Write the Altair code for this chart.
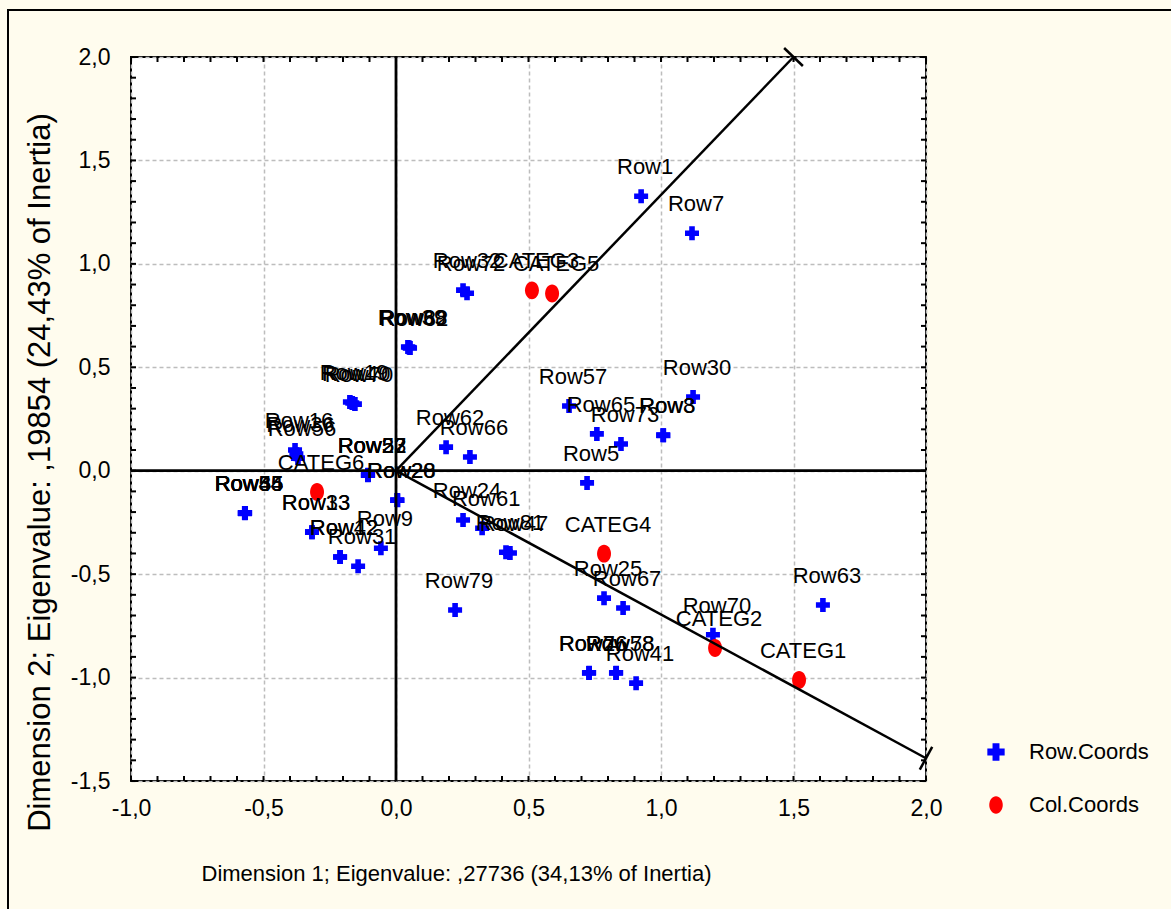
import altair as alt
import numpy as np
import pandas as pd

FONT = "Liberation Sans, Arial, Helvetica, sans-serif"

# Row coordinates (Row.Coords)
row_labels = [
    "Row1", "Row7", "Row32", "Row72",
    "Row39", "Row68", "Row82",
    "Row19", "Row40", "Row70",
    "Row16", "Row36", "Row56",
    "Row22", "Row27", "Row52", "Row53",
    "Row20", "Row28",
    "Row9", "Row31", "Row42", "Row12", "Row13", "Row33",
    "Row44", "Row55", "Row35", "Row45", "Row54",
    "Row62", "Row66", "Row57", "Row65", "Row73", "Row8", "Row3", "Row30",
    "Row5", "Row24", "Row61", "Row81", "Row47", "Row79", "Row25", "Row67",
    "Row76", "Row26", "Row58", "Row78", "Row41", "Row70b", "Row63",
]
row_x = [
    0.925, 1.117, 0.253, 0.268,
    0.045, 0.050, 0.053,
    -0.174, -0.165, -0.155,
    -0.381, -0.376, -0.370,
    -0.106, -0.106, -0.105, -0.106,
    0.004, 0.006,
    -0.057, -0.143, -0.211, -0.211, -0.317, -0.317,
    -0.570, -0.570, -0.569, -0.570, -0.571,
    0.189, 0.279, 0.653, 0.758, 0.849, 1.008, 1.009, 1.121,
    0.721, 0.253, 0.325, 0.415, 0.430, 0.223, 0.785, 0.857,
    0.728, 0.729, 0.830, 0.831, 0.906, 1.196, 1.611,
]
row_y = [
    1.327, 1.148, 0.873, 0.858,
    0.598, 0.596, 0.593,
    0.332, 0.327, 0.322,
    0.100, 0.080, 0.061,
    -0.021, -0.021, -0.020, -0.022,
    -0.142, -0.143,
    -0.375, -0.462, -0.417, -0.417, -0.297, -0.297,
    -0.205, -0.205, -0.204, -0.206, -0.205,
    0.114, 0.066, 0.313, 0.178, 0.129, 0.172, 0.171, 0.356,
    -0.059, -0.238, -0.278, -0.394, -0.398, -0.673, -0.616, -0.664,
    -0.978, -0.977, -0.978, -0.977, -1.027, -0.793, -0.649,
]
row_text = [lbl.rstrip("b") for lbl in row_labels]

# Column coordinates (Col.Coords)
col_labels = ["CATEG1", "CATEG2", "CATEG3", "CATEG4", "CATEG5", "CATEG6"]
col_x = [1.521, 1.204, 0.513, 0.785, 0.589, -0.298]
col_y = [-1.012, -0.857, 0.872, -0.401, 0.857, -0.103]

# Directions drawn from the origin towards the column profiles
ray_x = [1.5, 2.0]
ray_y = [2.0, -1.39]

x_major = [-1.0, -0.5, 0.0, 0.5, 1.0, 1.5, 2.0]
y_major = [-1.5, -1.0, -0.5, 0.0, 0.5, 1.0, 1.5, 2.0]

W, H = 795, 724
X_DOM = [-1.0, 2.0]
Y_DOM = [-1.5, 2.0]

kinds = ["Row.Coords", "Col.Coords"]
ELLIPSE = "M0,-1A0.78,1,0,1,1,0,1A0.78,1,0,1,1,0,-1Z"

pts = pd.concat([
    pd.DataFrame({"x": row_x, "y": row_y, "label": row_text, "kind": kinds[0]}),
    pd.DataFrame({"x": col_x, "y": col_y, "label": col_labels, "kind": kinds[1]}),
], ignore_index=True)

x_scale = alt.Scale(domain=X_DOM, nice=False, zero=False)
y_scale = alt.Scale(domain=Y_DOM, nice=False, zero=False)

label_expr = "(datum.value < 0 ? '-' : '') + replace(format(abs(datum.value), '.1f'), '.', ',')"

x_axis = alt.Axis(
    values=x_major, labelExpr=label_expr, grid=True, gridDash=[4, 3],
    gridColor="#BDBDBD", gridWidth=1.5, domain=False, ticks=False,
    labelFont=FONT, labelFontSize=23, labelPadding=16, labelColor="black",
    labelFlush=False, labelOverlap=False,
    title="Dimension 1; Eigenvalue: ,27736 (34,13% of Inertia)",
    titleFont=FONT, titleFontSize=22, titleFontWeight="normal", titleColor="black",
    titleX=325, titleY=92, titleBaseline="middle", titleAlign="center",
)
y_axis = alt.Axis(
    values=y_major, labelExpr=label_expr, grid=True, gridDash=[4, 3],
    gridColor="#BDBDBD", gridWidth=1.5, domain=False, ticks=False,
    labelFont=FONT, labelFontSize=23, labelPadding=21, labelColor="black",
    labelFlush=False, labelOverlap=False,
    title="Dimension 2; Eigenvalue: ,19854 (24,43% of Inertia)",
    titleFont=FONT, titleFontSize=31, titleFontWeight="normal", titleColor="black",
    titleX=-91, titleY=415, titleBaseline="middle", titleAlign="center",
)


def X(field):
    return alt.X(field, scale=x_scale, axis=x_axis)


def Y(field):
    return alt.Y(field, scale=y_scale, axis=y_axis)


# Scatter of row and column profiles with the legend
legend = alt.Legend(
    title=None, orient="none", legendX=854, legendY=684, padding=0,
    labelFont=FONT, labelFontSize=22, labelColor="black", labelOffset=22,
    rowPadding=31, symbolSize=300, symbolStrokeWidth=0,
)
points = alt.Chart(pts).mark_point(filled=True, opacity=1, strokeWidth=0).encode(
    x=X("x:Q"),
    y=Y("y:Q"),
    color=alt.Color("kind:N", scale=alt.Scale(domain=kinds, range=["#0000FF", "#FF0000"]), legend=legend),
    shape=alt.Shape("kind:N", scale=alt.Scale(domain=kinds, range=["cross", ELLIPSE]), legend=legend),
    size=alt.condition("datum.kind == 'Row.Coords'", alt.value(196), alt.value(320)),
)

labels = alt.Chart(pts).mark_text(
    align="center", baseline="alphabetic", dx=4, dy=-22,
    font=FONT, fontSize=22, color="black",
).encode(
    x=X("x:Q"),
    y=Y("y:Q"),
    text="label:N",
)

# Zero lines through the origin
zero_v = alt.Chart(pd.DataFrame({"x": [0.0]})).mark_rule(color="black", strokeWidth=2.8).encode(
    x=X("x:Q"))
zero_h = alt.Chart(pd.DataFrame({"y": [0.0]})).mark_rule(color="black", strokeWidth=2.8).encode(
    y=Y("y:Q"))

# Rays with a short perpendicular bar at the far end
px_x = W / (X_DOM[1] - X_DOM[0])
px_y = H / (Y_DOM[1] - Y_DOM[0])
rays = pd.DataFrame({"x": 0.0, "y": 0.0, "x1": ray_x, "y1": ray_y})
ends = []
for ex, ey in zip(ray_x, ray_y):
    dx, dy = ex * px_x, ey * px_y
    n = np.hypot(dx, dy)
    ux, uy = -dy / n * 13, dx / n * 13
    ends.append({"x": ex - ux / px_x, "y": ey - uy / px_y, "x1": ex + ux / px_x, "y1": ey + uy / px_y})
ends = pd.DataFrame(ends)

ray_rules = alt.Chart(pd.concat([rays, ends], ignore_index=True)).mark_rule(
    color="black", strokeWidth=2.5).encode(
    x=X("x:Q"), x2="x1:Q",
    y=Y("y:Q"), y2="y1:Q",
)

# Inward minor ticks on all four sides of the frame
xt = pd.DataFrame({"x": np.round(np.arange(-1.0, 2.001, 0.1), 2)})
yt = pd.DataFrame({"y": np.round(np.arange(-1.5, 2.001, 0.1), 2)})
TL = 5
tick_b = alt.Chart(xt).mark_rule(color="black", strokeWidth=2).encode(
    x=X("x:Q"), y=alt.value(H), y2=alt.value(H - TL))
tick_t = alt.Chart(xt).mark_rule(color="black", strokeWidth=2).encode(
    x=X("x:Q"), y=alt.value(0), y2=alt.value(TL))
tick_l = alt.Chart(yt).mark_rule(color="black", strokeWidth=2).encode(
    y=Y("y:Q"), x=alt.value(0), x2=alt.value(TL))
tick_r = alt.Chart(yt).mark_rule(color="black", strokeWidth=2).encode(
    y=Y("y:Q"), x=alt.value(W), x2=alt.value(W - TL))

# Outer figure frame
frame = alt.Chart(pd.DataFrame({"a": [0]})).mark_rect(
    fillOpacity=0, stroke="black", strokeWidth=2).encode(
    x=alt.value(-123), x2=alt.value(1171 - 131 + 20),
    y=alt.value(-47), y2=alt.value(909 - 57 + 20),
)

chart = alt.layer(
    points, frame, zero_v, zero_h, ray_rules, labels, tick_b, tick_t, tick_l, tick_r,
).properties(
    width=W, height=H,
    padding={"left": 131, "top": 57, "right": 245, "bottom": 128},
    autosize="none",
    background="#FFFCEE",
).configure_view(fill="white", stroke="black", strokeWidth=2)

chart.save("out.html", embed_options={"renderer": "svg", "actions": False})
